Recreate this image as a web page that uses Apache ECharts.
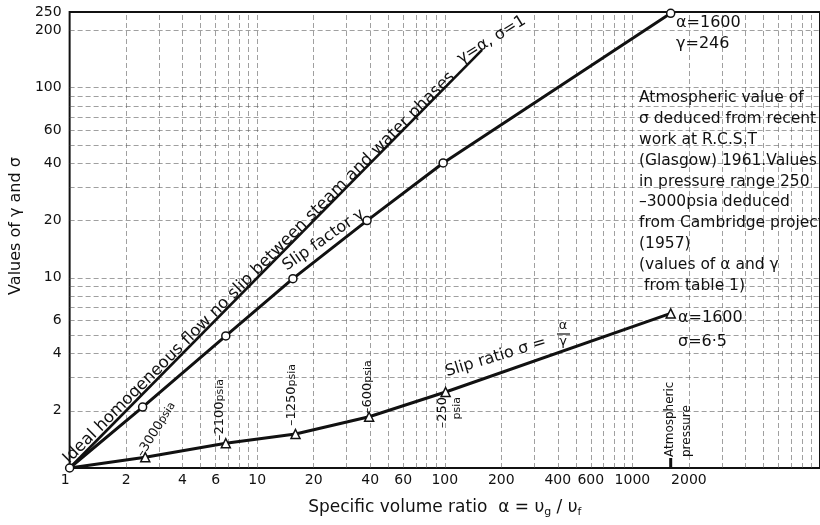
<!DOCTYPE html>
<html>
<head>
<meta charset="utf-8">
<script src="https://cdn.jsdelivr.net/npm/echarts@6/dist/echarts.min.js"></script>
<style>html,body{margin:0;padding:0;background:#fff}#c{width:820px;height:525px}</style>
</head>
<body>
<div id="c"></div>
<script>
// ---- data ----
const xTickVals = [1, 2, 4, 6, 10, 20, 40, 60, 100, 200, 400, 600, 1000, 2000];
const yTickVals = [2, 4, 6, 10, 20, 40, 60, 100, 200, 250];
const xGridVals = [2,3,4,5,6,7,8,9,10,20,30,40,50,60,70,80,90,100,200,300,400,500,600,700,800,900,1000,2000,3000,4000,5000,6000,7000,8000,9000];
const yGridVals = [2,3,4,5,6,7,8,9,10,20,30,40,50,60,70,80,90,100,200];
const idealAlpha = [1, 158];
const idealGamma = [1, 158];
const gammaAlpha = [1, 2.45, 6.8, 15.5, 38.5, 98, 1600];
const gammaVals  = [1, 2.09, 4.95, 9.9, 20, 40.2, 246];
const sigmaAlpha = [1, 2.53, 6.8, 16.0, 39.5, 101, 1600];
const sigmaVals  = [1, 1.14, 1.35, 1.51, 1.86, 2.51, 6.5];

const FONT = '"DejaVu Sans", sans-serif';
const INK = '#111';

const chart = echarts.init(document.getElementById('c'), null, {renderer: 'canvas'});

const gridLineStyle = {color: '#555', width: 0.8, type: [5, 3], opacity: 0.7};
const gridMarks = xGridVals.map(v => ({xAxis: v})).concat(yGridVals.map(v => ({yAxis: v})));

const option = {
  animation: false,
  backgroundColor: '#fff',
  grid: {left: 61, top: 12, width: 764, height: 456, show: true, borderColor: INK, borderWidth: 2, backgroundColor: 'transparent'},
  xAxis: {
    type: 'log', logBase: 10, min: 1, max: 10000,
    axisLine: {show: false}, axisTick: {show: false}, splitLine: {show: false},
    axisLabel: {customValues: xTickVals, formatter: v => String(Math.round(v)), fontFamily: FONT, fontSize: 14, color: INK, margin: 5, alignMinLabel: 'right'},
    name: '{t|Specific volume ratio  α = υ}{s|g}{t| / υ}{s|f}',
    nameLocation: 'middle', nameGap: 29,
    nameTextStyle: {rich: {t: {fontFamily: FONT, fontSize: 17, color: INK}, s: {fontFamily: FONT, fontSize: 11, color: INK, padding: [10, 0, 0, 0]}}}
  },
  yAxis: {
    type: 'log', logBase: 10, min: 1, max: 250,
    axisLine: {show: false}, axisTick: {show: false}, splitLine: {show: false},
    axisLabel: {customValues: yTickVals, formatter: v => String(Math.round(v)), fontFamily: FONT, fontSize: 14, color: INK, margin: 8},
    name: 'Values of γ and σ', nameLocation: 'middle', nameGap: 38,
    nameTextStyle: {fontFamily: FONT, fontSize: 16, color: INK, padding: [0, 0, 0, 28]}
  },
  series: [
    {
      type: 'line', name: 'ideal', symbol: 'none',
      data: idealAlpha.map((a, i) => [a, idealGamma[i]]),
      lineStyle: {color: INK, width: 2.6}, z: 3,
      markLine: {silent: true, symbol: ['none', 'none'], label: {show: false}, lineStyle: gridLineStyle, data: gridMarks, z: 1}
    },
    {
      type: 'line', name: 'gamma', symbol: 'circle', symbolSize: 8, showAllSymbol: true,
      data: gammaAlpha.map((a, i) => [a, gammaVals[i]]),
      lineStyle: {color: INK, width: 3},
      itemStyle: {color: '#fff', borderColor: INK, borderWidth: 1.5}, z: 5
    },
    {
      type: 'line', name: 'sigma', symbol: 'triangle', symbolSize: 9, showAllSymbol: true,
      data: sigmaAlpha.map((a, i) => i === 0 ? {value: [a, sigmaVals[i]], symbol: 'none'} : [a, sigmaVals[i]]),
      lineStyle: {color: INK, width: 3},
      itemStyle: {color: '#fff', borderColor: INK, borderWidth: 1.5}, z: 4
    }
  ]
};
chart.setOption(option);

function txt(x, y, text, opts) {
  opts = opts || {};
  return {
    type: 'text', x: x, y: y, rotation: opts.rot || 0, z: 20, silent: true,
    style: Object.assign({
      text: text, fill: INK, font: (opts.size || 15) + 'px ' + FONT,
      textAlign: opts.align || 'left', align: opts.align || 'left',
      textVerticalAlign: opts.valign || 'middle', verticalAlign: opts.valign || 'middle',
      lineHeight: opts.lh
    }, opts.rich ? {rich: opts.rich} : {})
  };
}
const D = Math.PI / 180;
const psiaRich = {n: {fontFamily: FONT, fontSize: 13, color: INK}, p: {fontFamily: FONT, fontSize: 11, color: INK}};
const atmX = chart.convertToPixel({xAxisIndex: 0}, 1600);
const y1 = chart.convertToPixel({yAxisIndex: 0}, 1);

chart.setOption({
  graphic: [
    txt(72, 467, 'Ideal homogeneous flow no slip between steam and water phases', {rot: 45 * D, valign: 'bottom', size: 16.5}),
    txt(463, 67, 'γ=α, σ=1', {rot: 32 * D, valign: 'bottom', size: 16}),
    txt(289, 274, 'Slip factor γ', {rot: 35 * D, valign: 'bottom', size: 16}),
    txt(448, 380, 'Slip ratio σ =', {rot: 17 * D, valign: 'bottom', size: 16}),
    txt(563, 326, 'α', {align: 'center', size: 13}),
    txt(563, 342, 'γ', {align: 'center', size: 13}),
    {type: 'line', silent: true, z: 20, shape: {x1: 557, y1: 334, x2: 570, y2: 334}, style: {stroke: INK, lineWidth: 1.2}},
    txt(140, 456, '{n|–3000}{p|psia}', {rot: 58 * D, rich: psiaRich}),
    txt(220, 441, '{n|–2100}{p|psia}', {rot: 90 * D, rich: psiaRich}),
    txt(292, 426, '{n|–1250}{p|psia}', {rot: 90 * D, rich: psiaRich}),
    txt(368, 414, '{n|–600}{p|psia}', {rot: 90 * D, rich: psiaRich}),
    txt(436, 397, '{n|–250}\n{p|psia}', {rot: 90 * D, align: 'right', valign: 'top', lh: 14, rich: psiaRich}),
    txt(661, 457, 'Atmospheric\npressure', {rot: 90 * D, valign: 'top', size: 12, lh: 17}),
    {type: 'line', silent: true, z: 20, shape: {x1: atmX, y1: y1 - 10, x2: atmX, y2: y1}, style: {stroke: INK, lineWidth: 3}},
    txt(676, 12, 'α=1600\nγ=246', {valign: 'top', size: 16, lh: 21}),
    txt(678, 306, 'α=1600\nσ=6·5', {valign: 'top', size: 16, lh: 24}),
    txt(639, 88, 'Atmospheric value of\nσ deduced from recent\nwork at R.C.S.T\n(Glasgow) 1961.Values\nin pressure range 250\n–3000psia deduced\nfrom Cambridge project\n(1957)\n(values of α and γ\n from table 1)', {valign: 'top', size: 15.5, lh: 20.8})
  ]
});
</script>
</body>
</html>
